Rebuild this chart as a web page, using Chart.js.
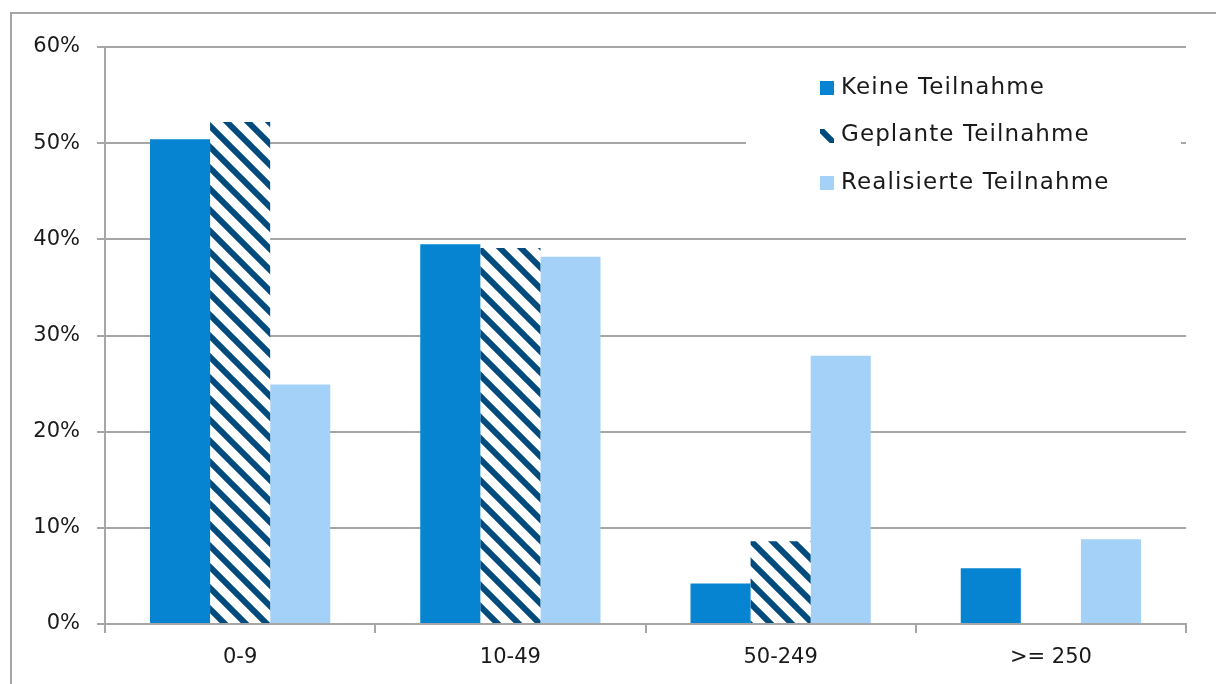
<!DOCTYPE html>
<html>
<head>
<meta charset="utf-8">
<script src="https://cdn.jsdelivr.net/npm/chart.js@4/dist/chart.umd.min.js"></script>
<style>
  html, body { margin: 0; padding: 0; background: #ffffff; }
  #wrap { position: relative; width: 1216px; height: 684px; }
  canvas { display: block; }
</style>
</head>
<body>
<div id="wrap"><canvas id="c" width="1216" height="684"></canvas></div>
<script>
// Unternehmensgröße (Beschäftigte) und Anteil je Teilnahmestatus in %
const categories = ['0-9', '10-49', '50-249', '>= 250'];
const seriesNames = ['Keine Teilnahme', 'Geplante Teilnahme', 'Realisierte Teilnahme'];
const keineTeilnahme = [50.4, 39.5, 4.2, 5.8];
const geplanteTeilnahme = [52.2, 39.1, 8.6, 0];
const realisierteTeilnahme = [24.9, 38.2, 27.9, 8.8];
const yTickValues = [0, 10, 20, 30, 40, 50, 60];

const FONT = 'DejaVu Sans';
const TEXT = '#1a1a1a';
const GRID = '#a6a6a6';

// diagonal stripe fill for the planned series
function stripes(size, width, fg, bg) {
  const t = document.createElement('canvas');
  t.width = size; t.height = size;
  const g = t.getContext('2d');
  g.fillStyle = bg; g.fillRect(0, 0, size, size);
  g.strokeStyle = fg; g.lineWidth = width; g.lineCap = 'square';
  g.beginPath();
  for (let k = -1; k <= 1; k++) {
    g.moveTo(k * size, 0);
    g.lineTo(k * size + size, size);
  }
  g.stroke();
  return g.createPattern(t, 'repeat');
}
const hatch = stripes(21, 6, '#004b7d', '#ffffff');

// frame lines along top and left edge
const framePlugin = {
  id: 'frame',
  beforeDraw(chart) {
    const ctx = chart.ctx;
    ctx.save();
    ctx.strokeStyle = GRID; ctx.lineWidth = 2;
    ctx.beginPath();
    ctx.moveTo(11, 700); ctx.lineTo(11, 13); ctx.lineTo(1216, 13);
    ctx.stroke();
    ctx.restore();
  }
};

// legend box placed inside the plot
const insideLegend = {
  id: 'insideLegend',
  afterDraw(chart) {
    const ctx = chart.ctx;
    ctx.save();
    ctx.fillStyle = '#ffffff';
    ctx.fillRect(746, 60, 435, 150);
    ctx.font = '23px "' + FONT + '"';
    ctx.letterSpacing = '1.1px';
    ctx.textBaseline = 'middle';
    ctx.textAlign = 'left';
    chart.data.datasets.forEach((ds, i) => {
      const y = 88 + i * 47.5;
      const mx = 820, my = Math.round(y - 7);
      ctx.save();
      ctx.translate(mx, my);
      ctx.fillStyle = ds.backgroundColor;
      ctx.fillRect(0, 0, 14, 14);
      ctx.restore();
      ctx.fillStyle = TEXT;
      ctx.fillText(ds.label, 841, y);
    });
    ctx.restore();
  }
};

new Chart(document.getElementById('c'), {
  type: 'bar',
  data: {
    labels: categories,
    datasets: [
      { label: seriesNames[0], data: keineTeilnahme, backgroundColor: '#0784d1' },
      { label: seriesNames[1], data: geplanteTeilnahme, backgroundColor: hatch },
      { label: seriesNames[2], data: realisierteTeilnahme, backgroundColor: '#a3d1f7' }
    ]
  },
  options: {
    responsive: false,
    animation: false,
    devicePixelRatio: 1,
    datasets: { bar: { barPercentage: 1, categoryPercentage: 0.667 } },
    layout: { padding: { top: 47, right: 30, left: 0, bottom: 0 } },
    plugins: { legend: { display: false }, tooltip: { enabled: false } },
    scales: {
      x: {
        grid: { display: true, drawOnChartArea: false, drawTicks: true, tickLength: 9, color: GRID, lineWidth: 2, offset: true },
        border: { color: GRID, width: 2 },
        ticks: { color: TEXT, font: { family: FONT, size: 21 }, padding: 12 },
        afterFit(s) { s.height = 60; }
      },
      y: {
        min: 0, max: 60,
        afterBuildTicks(s) { s.ticks = yTickValues.map(v => ({ value: v })); },
        grid: { color: GRID, lineWidth: 2, tickLength: 8 },
        border: { color: GRID, width: 2 },
        ticks: { color: TEXT, font: { family: FONT, size: 21 }, padding: 17, callback: v => v + '%' },
        afterFit(s) { s.width = 105; }
      }
    }
  },
  plugins: [framePlugin, insideLegend]
});
</script>
</body>
</html>
